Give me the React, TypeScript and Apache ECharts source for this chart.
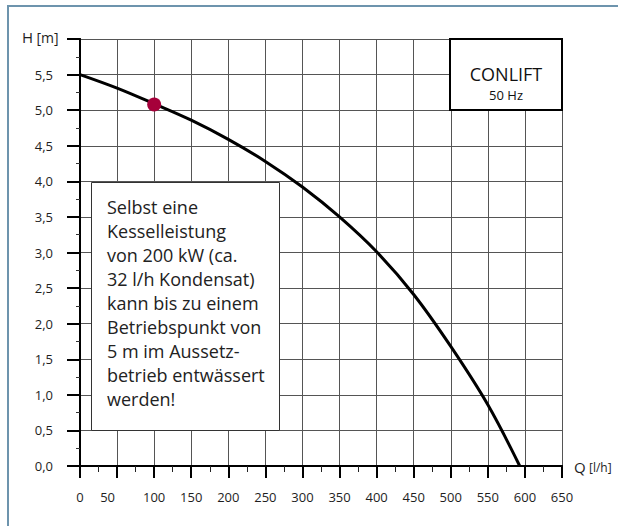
import React, { useEffect, useRef } from "react";
import * as echarts from "echarts";

// Pump curve (Q in l/h, H in m)
const flowQ = [0, 50, 100, 150, 200, 250, 300, 350, 400, 450, 500, 550, 593];
const headH = [5.5, 5.31, 5.09, 4.86, 4.59, 4.28, 3.92, 3.5, 3.01, 2.41, 1.68, 0.86, 0];
// Operating point marker
const pointQ = [100];
const pointH = [5.08];

// Axis ticks
const xTickValues = [0, 50, 100, 150, 200, 250, 300, 350, 400, 450, 500, 550, 600, 650];
const yTickValues = [0, 0.5, 1, 1.5, 2, 2.5, 3, 3.5, 4, 4.5, 5, 5.5, 6];
const yTickLabels = ["0,0", "0,5", "1,0", "1,5", "2,0", "2,5", "3,0", "3,5", "4,0", "4,5", "5,0", "5,5", ""];

// Texts
const yAxisTitle = ["H", "[m]"];
const xAxisTitle = ["Q", "[l/h]"];
const productName = "CONLIFT";
const productFreq = "50 Hz";
const noteLines = [
  "Selbst eine",
  "Kesselleistung",
  "von 200 kW (ca.",
  "32 l/h Kondensat)",
  "kann bis zu einem",
  "Betriebspunkt von",
  "5 m im Aussetz-",
  "betrieb entwässert",
  "werden!",
];

const FONT = "'Open Sans', 'Noto Sans', sans-serif";

export default function App() {
  const ref = useRef<HTMLDivElement>(null);

  useEffect(() => {
    if (!ref.current) return;
    const chart = echarts.init(ref.current, undefined, { renderer: "svg" });
    const xMin = xTickValues[0];
    const xMax = xTickValues[xTickValues.length - 1];
    const yMin = yTickValues[0];
    const yMax = yTickValues[yTickValues.length - 1];

    const baseAxisFrame = {
      axisLine: { show: true, lineStyle: { color: "#000", width: 2 } },
      axisTick: { show: false },
      axisLabel: { show: false },
      splitLine: { show: false },
    };

    chart.setOption({
      animation: false,
      backgroundColor: "#fff",
      grid: { left: 80, right: 56, top: 39, bottom: 60, outerBoundsMode: "none" },
      xAxis: [
        {
          type: "value",
          min: xMin,
          max: xMax,
          interval: 50,
          axisLine: { show: true, onZero: false, lineStyle: { color: "#000", width: 2 } },
          axisTick: { show: true, length: 12, lineStyle: { color: "#000", width: 2 } },
          minorTick: { show: true, splitNumber: 2, length: 6, lineStyle: { color: "#222", width: 1 } },
          splitLine: { show: true, lineStyle: { color: "#555", width: 1 } },
          axisLabel: {
            margin: 24,
            fontFamily: FONT,
            fontSize: 13,
            color: "#1e1e1e",
            formatter: (v: number) => (v === 50 ? "{s|" + v + "}" : String(v)),
            rich: {
              s: { fontFamily: FONT, fontSize: 13, color: "#1e1e1e", padding: [0, 19, 0, 0] },
            },
          },
        },
        { type: "value", position: "top", min: xMin, max: xMax, interval: 50, ...baseAxisFrame },
      ],
      yAxis: [
        {
          type: "value",
          min: yMin,
          max: yMax,
          interval: 0.5,
          axisLine: { show: true, onZero: false, lineStyle: { color: "#000", width: 2 } },
          axisTick: { show: true, length: 13, lineStyle: { color: "#000", width: 2 } },
          minorTick: { show: true, splitNumber: 2, length: 4, lineStyle: { color: "#333", width: 1 } },
          splitLine: { show: true, lineStyle: { color: "#555", width: 1 } },
          axisLabel: {
            margin: 27,
            fontFamily: FONT,
            fontSize: 13,
            color: "#1e1e1e",
            formatter: (v: number) => {
              const i = yTickValues.findIndex((t) => Math.abs(t - v) < 1e-6);
              return i >= 0 ? yTickLabels[i] : "";
            },
          },
        },
        { type: "value", position: "right", min: yMin, max: yMax, interval: 0.5, ...baseAxisFrame },
      ],
      series: [
        {
          type: "line",
          data: flowQ.map((q, i) => [q, headH[i]]),
          smooth: 0.35,
          symbol: "none",
          lineStyle: { color: "#000", width: 3 },
          z: 3,
        },
        {
          type: "scatter",
          data: pointQ.map((q, i) => [q, pointH[i]]),
          symbol: "circle",
          symbolSize: 14,
          itemStyle: { color: "#a6003a", opacity: 1 },
          z: 4,
        },
      ],
      graphic: [
        // outer frame (top and left)
        { type: "line", shape: { x1: 7, y1: 6, x2: 618, y2: 6 }, style: { stroke: "#6d94ad", lineWidth: 2 }, z: 20 },
        { type: "line", shape: { x1: 8, y1: 5, x2: 8, y2: 526 }, style: { stroke: "#6d94ad", lineWidth: 2 }, z: 20 },
        // axis titles
        {
          type: "text",
          x: 22,
          y: 37,
          z: 20,
          style: {
            text: "{a|" + yAxisTitle[0] + "} {b|" + yAxisTitle[1] + "}",
            verticalAlign: "middle",
            rich: {
              a: { fontFamily: FONT, fontSize: 15, fill: "#1e1e1e" },
              b: { fontFamily: FONT, fontSize: 14, fill: "#1e1e1e" },
            },
          },
        },
        {
          type: "text",
          x: 574,
          y: 467,
          z: 20,
          style: {
            text: "{a|" + xAxisTitle[0] + "} {b|" + xAxisTitle[1] + "}",
            verticalAlign: "middle",
            rich: {
              a: { fontFamily: FONT, fontSize: 15, fill: "#1e1e1e" },
              b: { fontFamily: FONT, fontSize: 12, fill: "#1e1e1e" },
            },
          },
        },
        // product box
        {
          type: "rect",
          z: 10,
          shape: { x: 450, y: 39, width: 112, height: 71 },
          style: { fill: "#fff", stroke: "#000", lineWidth: 2 },
        },
        {
          type: "text",
          x: 506,
          y: 74,
          z: 11,
          style: { text: productName, align: "center", verticalAlign: "middle", fontFamily: FONT, fontSize: 18, fill: "#111" },
        },
        {
          type: "text",
          x: 506,
          y: 95,
          z: 11,
          style: { text: productFreq, align: "center", verticalAlign: "middle", fontFamily: FONT, fontSize: 13, fill: "#111" },
        },
        // note box
        {
          type: "rect",
          z: 10,
          shape: { x: 91.5, y: 182.5, width: 188, height: 248 },
          style: { fill: "#fff", stroke: "#333", lineWidth: 1 },
        },
        {
          type: "text",
          x: 107,
          y: 194.5,
          z: 11,
          style: {
            text: noteLines.join("\n"),
            align: "left",
            verticalAlign: "top",
            fontFamily: FONT,
            fontSize: 18,
            lineHeight: 24.1,
            fill: "#222",
          },
        },
      ],
    });
    return () => chart.dispose();
  }, []);

  return (
    <div
      ref={ref}
      style={{ position: "absolute", left: 0, top: 0, width: 618, height: 526, background: "#fff" }}
    />
  );
}
